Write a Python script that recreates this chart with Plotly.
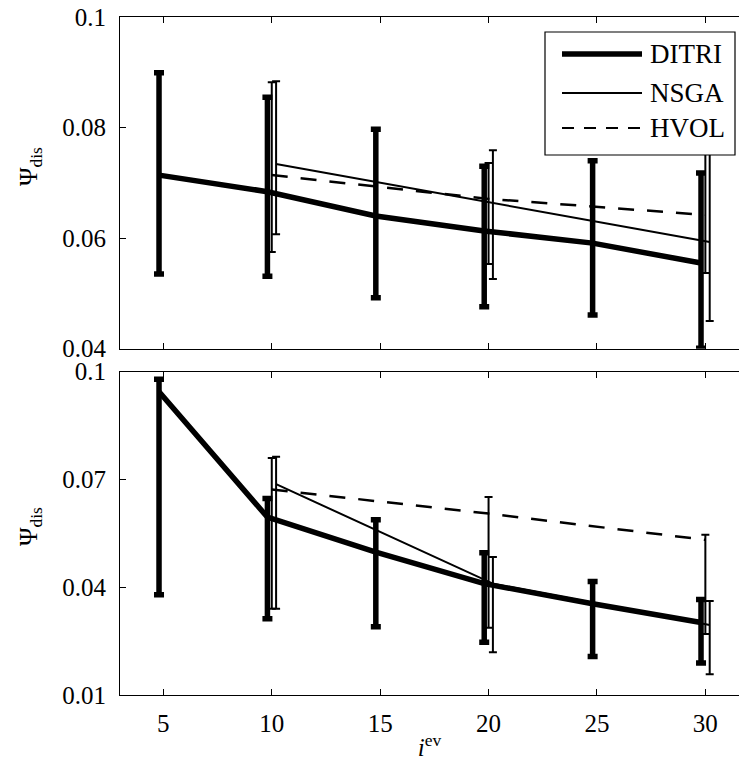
import numpy as np
import plotly.graph_objects as go

# ---------------- data ----------------
iev_ditri = [5, 10, 15, 20, 25, 30]
iev_other = [10, 20, 30]

# top panel
top_ditri_mean = [0.0714, 0.0684, 0.0640, 0.0613, 0.0591, 0.0555]
top_ditri_low = [0.0535, 0.0531, 0.0492, 0.0476, 0.0461, 0.0401]
top_ditri_high = [0.0899, 0.0855, 0.0797, 0.0730, 0.0740, 0.0718]

top_nsga_mean = [0.0734, 0.0664, 0.0593]
top_nsga_low = [0.0607, 0.0526, 0.0450]
top_nsga_high = [0.0884, 0.0759, 0.0800]

top_hvol_mean = [0.0714, 0.0671, 0.0642]
top_hvol_low = [0.0575, 0.0553, 0.0537]
top_hvol_high = [0.0882, 0.0736, 0.0775]

# bottom panel
bot_ditri_mean = [0.0944, 0.0595, 0.0498, 0.0410, 0.0354, 0.0302]
bot_ditri_low = [0.0379, 0.0312, 0.0290, 0.0247, 0.0207, 0.0189]
bot_ditri_high = [0.0979, 0.0647, 0.0588, 0.0496, 0.0416, 0.0366]

bot_nsga_mean = [0.0687, 0.0410, 0.0295]
bot_nsga_low = [0.0340, 0.0219, 0.0158]
bot_nsga_high = [0.0763, 0.0484, 0.0362]

bot_hvol_mean = [0.0672, 0.0605, 0.0532]
bot_hvol_low = [0.0340, 0.0287, 0.0270]
bot_hvol_high = [0.0760, 0.0651, 0.0546]

x_ticks = [5, 10, 15, 20, 25, 30]
top_yticks = [0.04, 0.06, 0.08, 0.1]
top_ytext = ["0.04", "0.06", "0.08", "0.1"]
bot_yticks = [0.01, 0.04, 0.07, 0.1]
bot_ytext = ["0.01", "0.04", "0.07", "0.1"]

# ---------------- style ----------------
FONT = "'Liberation Serif', 'Times New Roman', serif"
FS = 25
W, H = 739, 767
ML, MR, MT, MB = 120, 0, 17, 72
PW, PH = W - ML - MR, H - MT - MB


def px2paper_x(px):
    return (px - ML) / PW


def px2paper_y(py):
    return (H - MB - py) / PH


def err(mean, low, high):
    m = np.array(mean)
    return dict(type="data", symmetric=False,
                array=list(np.array(high) - m),
                arrayminus=list(m - np.array(low)))


fig = go.Figure()

panels = [
    ("x2", "y", top_ditri_mean, top_ditri_low, top_ditri_high,
     top_nsga_mean, top_nsga_low, top_nsga_high,
     top_hvol_mean, top_hvol_low, top_hvol_high),
    ("x", "y2", bot_ditri_mean, bot_ditri_low, bot_ditri_high,
     bot_nsga_mean, bot_nsga_low, bot_nsga_high,
     bot_hvol_mean, bot_hvol_low, bot_hvol_high),
]

for (xax, yax, dm, dl, dh, nm, nl, nh, hm, hl, hh) in panels:
    fig.add_trace(go.Scatter(
        x=list(np.array(iev_other) + 0.0), y=hm, xaxis=xax, yaxis=yax,
        mode="lines", name="HVOL", showlegend=False,
        line=dict(color="black", width=2.5, dash="16px,13px"),
        error_y=dict(err(hm, hl, hh), color="black", thickness=2, width=4)))
    fig.add_trace(go.Scatter(
        x=list(np.array(iev_other) + 0.2), y=nm, xaxis=xax, yaxis=yax,
        mode="lines", name="NSGA", showlegend=False,
        line=dict(color="black", width=2),
        error_y=dict(err(nm, nl, nh), color="black", thickness=2, width=4)))
    fig.add_trace(go.Scatter(
        x=list(np.array(iev_ditri) - 0.2), y=dm, xaxis=xax, yaxis=yax,
        mode="lines", name="DITRI", showlegend=False,
        line=dict(color="black", width=5.5),
        error_y=dict(err(dm, dl, dh), color="black", thickness=5.5, width=5)))

axis_common = dict(showline=True, linecolor="black", linewidth=1,
                   ticks="inside", ticklen=6, tickcolor="black", tickwidth=1,
                   showgrid=False, zeroline=False,
                   tickfont=dict(family=FONT, size=FS, color="black"))

top_dom = [px2paper_y(348.7), 1.0]
bot_dom = [0.0, px2paper_y(371.7)]
xrange_ = [3, 3 + PW / 21.68]

fig.update_layout(
    width=W, height=H,
    margin=dict(l=ML, r=MR, t=MT, b=MB, pad=0),
    plot_bgcolor="white", paper_bgcolor="white",
    showlegend=False,
    xaxis=dict(axis_common, range=xrange_, tickvals=x_ticks,
               ticktext=[str(v) for v in x_ticks], mirror="ticks",
               anchor="y2", ticklabelstandoff=6,
               title=dict(text="<i>i</i><sup>ev</sup>",
                          font=dict(family=FONT, size=FS, color="black"),
                          standoff=2)),
    xaxis2=dict(axis_common, range=xrange_, tickvals=x_ticks,
                showticklabels=False, mirror="ticks", anchor="y",
                matches="x"),
    yaxis=dict(axis_common, domain=top_dom, range=[0.04, 0.1],
               tickvals=top_yticks, ticktext=top_ytext, anchor="x2",
               ticklabelstandoff=8),
    yaxis2=dict(axis_common, domain=bot_dom, range=[0.01, 0.1],
                tickvals=bot_yticks, ticktext=bot_ytext, anchor="x",
                ticklabelstandoff=8),
)

# y-axis titles
for yc in (167, 527):
    fig.add_annotation(
        x=px2paper_x(30), y=px2paper_y(yc), xref="paper", yref="paper",
        text="Ψ<sub>dis</sub>", showarrow=False, textangle=-90,
        xanchor="center", yanchor="middle",
        font=dict(family=FONT, size=FS, color="black"))

# legend (manual, top panel, north-east)
lx0, lx1, ly0, ly1 = 545, 735, 32, 155
fig.add_shape(type="rect", xref="paper", yref="paper",
              x0=px2paper_x(lx0), x1=px2paper_x(lx1),
              y0=px2paper_y(ly1), y1=px2paper_y(ly0),
              line=dict(color="black", width=1.2), fillcolor="white",
              layer="above")
legend_items = [("DITRI", 5.5, "solid", 54),
                ("NSGA", 2, "solid", 93),
                ("HVOL", 2, "12px,10px", 128)]
for name, w, dash, yy in legend_items:
    fig.add_shape(type="line", xref="paper", yref="paper",
                  x0=px2paper_x(562), x1=px2paper_x(642),
                  y0=px2paper_y(yy), y1=px2paper_y(yy),
                  line=dict(color="black", width=w, dash=dash),
                  layer="above")
    fig.add_annotation(x=px2paper_x(648), y=px2paper_y(yy), xref="paper",
                       yref="paper", text=name, showarrow=False,
                       xanchor="left", yanchor="middle",
                       font=dict(family=FONT, size=27, color="black"))

fig.write_html("out.html")
